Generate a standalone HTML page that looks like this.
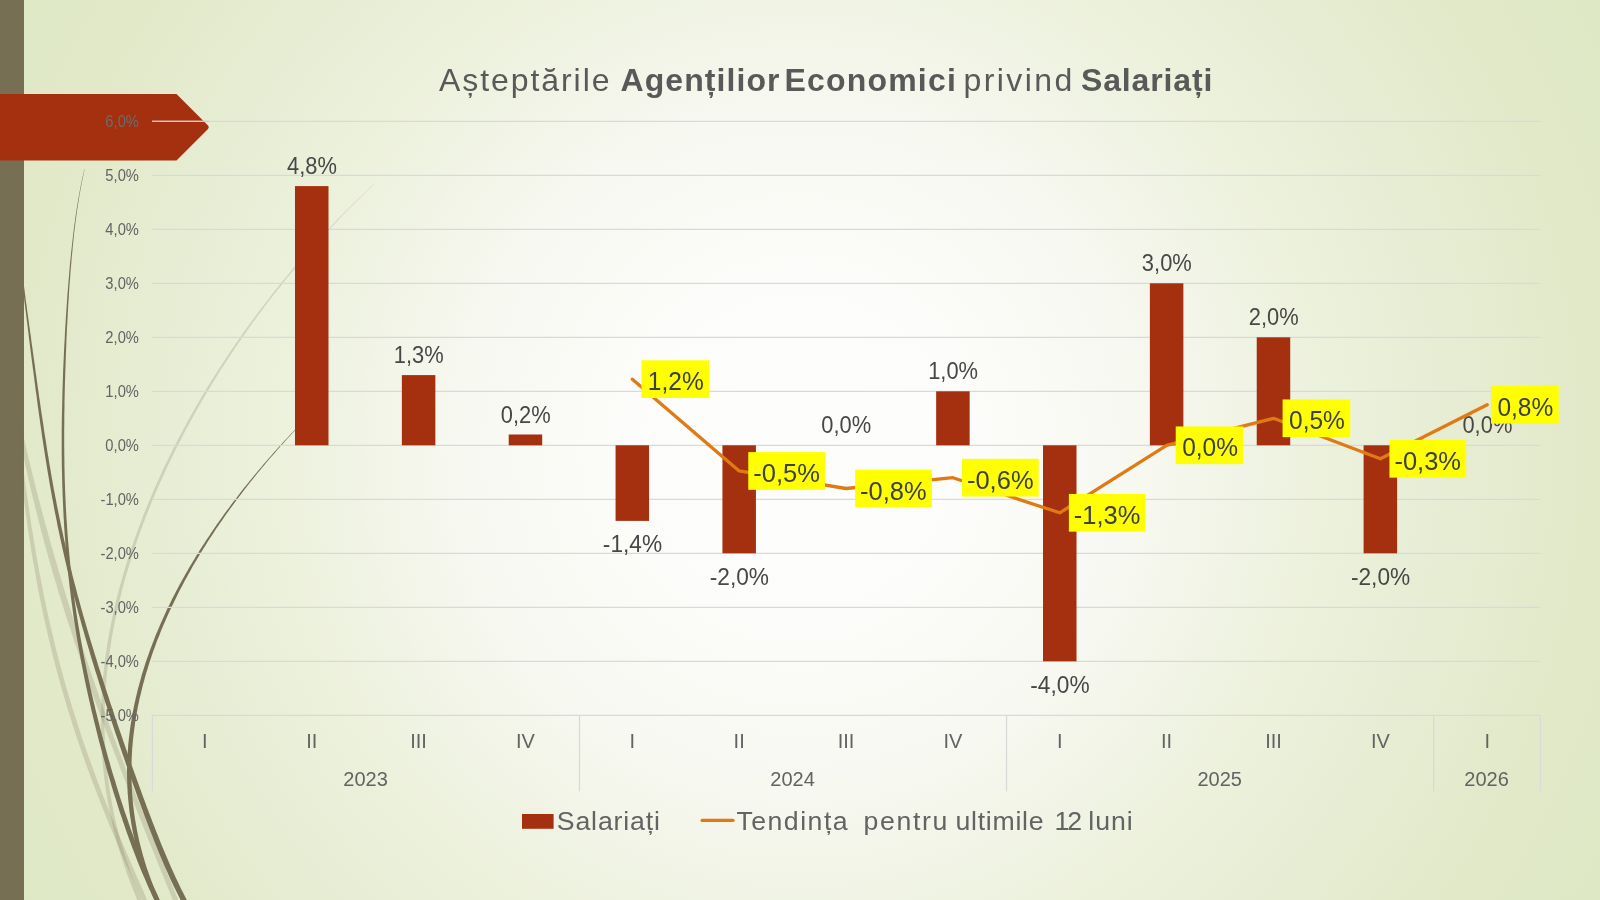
<!DOCTYPE html>
<html lang="ro">
<head>
<meta charset="utf-8">
<title>Așteptările Agențiilor Economici privind Salariați</title>
<style>
html,body{margin:0;padding:0;}
body{width:1600px;height:900px;overflow:hidden;font-family:"Liberation Sans",sans-serif;
background:#e4ebcf;}
#slide{position:absolute;left:0;top:0;width:1600px;height:900px;overflow:hidden;
background:radial-gradient(circle 900px at 800px 450px,#fdfdfc 0%,#fcfcfa 19%,#f7f8f0 38%,#f1f4e6 48%,#ecf1dc 59%,#e4ebce 80%,#e2e9c9 88%,#dee8c5 100%);}
svg{position:absolute;left:0;top:0;display:block;will-change:transform;}
</style>
</head>
<body>
<div id="slide">
<svg width="1600" height="900" viewBox="0 0 1600 900">
<rect x="0" y="0" width="24" height="900" fill="#766f54"/>
<g id="wisps">
<path d="M373.5 184.2 L369.5 187.9 L363.8 193.4 L357.5 199.5 L351.6 205.3 L346.3 210.5 L341.1 215.8 L336.0 221.1 L330.9 226.4 L326.0 231.7 L321.0 236.9 L316.2 242.2 L311.4 247.5 L306.7 252.8 L302.1 258.1 L297.6 263.4 L293.1 268.6 L288.6 273.9 L284.3 279.2 L279.9 284.5 L275.7 289.8 L271.5 295.1 L267.4 300.4 L263.3 305.7 L259.3 311.0 L255.4 316.3 L251.5 321.5 L247.6 326.8 L243.8 332.1 L240.1 337.4 L236.4 342.7 L232.8 348.0 L229.2 353.3 L225.7 358.6 L222.2 363.9 L218.8 369.2 L215.4 374.5 L212.1 379.8 L208.8 385.1 L205.6 390.3 L202.4 395.6 L199.3 400.9 L196.2 406.2 L193.2 411.5 L190.2 416.8 L187.3 422.1 L184.4 427.4 L181.6 432.7 L178.8 438.0 L176.0 443.3 L173.3 448.6 L170.7 453.9 L168.1 459.2 L165.5 464.5 L163.0 469.8 L160.6 475.1 L158.1 480.4 L155.8 485.7 L153.4 491.0 L151.2 496.3 L148.9 501.6 L146.8 506.9 L144.6 512.2 L142.5 517.5 L140.5 522.9 L138.5 528.2 L136.6 533.5 L134.7 538.8 L132.8 544.1 L131.0 549.4 L129.3 554.7 L127.6 560.0 L125.9 565.3 L124.3 570.6 L122.8 575.9 L121.3 581.2 L119.8 586.5 L118.4 591.8 L117.0 597.1 L115.7 602.5 L114.5 607.8 L113.3 613.1 L112.2 618.4 L111.1 623.7 L110.0 629.0 L109.0 634.3 L108.1 639.6 L107.2 644.9 L106.4 650.3 L105.6 655.6 L104.9 660.9 L104.3 666.2 L103.7 671.5 L103.1 676.8 L102.6 682.2 L102.2 687.5 L101.8 692.8 L101.5 698.1 L101.3 703.4 L101.1 708.7 L100.9 714.1 L100.8 719.4 L100.8 724.7 L100.9 730.0 L101.0 735.3 L101.2 740.7 L101.4 746.0 L101.7 751.3 L102.1 756.6 L102.5 761.9 L103.0 767.3 L103.6 772.6 L104.2 777.9 L104.9 783.2 L105.6 788.5 L106.5 793.9 L107.3 799.2 L108.3 804.5 L109.3 809.8 L110.4 815.1 L111.6 820.5 L112.8 825.8 L114.1 831.1 L115.5 836.4 L116.9 841.7 L118.4 847.1 L120.0 852.4 L121.7 857.7 L123.4 863.0 L125.2 868.3 L127.0 873.7 L129.0 879.0 L131.0 884.3 L133.0 889.6 L135.2 894.9 L137.4 900.3 L139.7 905.6 L142.3 911.4 L145.2 917.5 L147.8 923.0 L149.6 926.8 L153.0 925.2 L151.2 921.4 L148.6 915.9 L145.8 909.8 L143.2 904.0 L140.9 898.8 L138.7 893.5 L136.6 888.2 L134.5 882.9 L132.5 877.7 L130.6 872.4 L128.8 867.1 L127.0 861.8 L125.3 856.6 L123.6 851.3 L122.1 846.0 L120.6 840.7 L119.2 835.5 L117.8 830.2 L116.5 824.9 L115.3 819.6 L114.1 814.4 L113.1 809.1 L112.0 803.8 L111.1 798.5 L110.2 793.3 L109.4 788.0 L108.6 782.7 L108.0 777.4 L107.3 772.2 L106.8 766.9 L106.3 761.6 L105.8 756.3 L105.5 751.1 L105.2 745.8 L104.9 740.5 L104.7 735.2 L104.6 729.9 L104.5 724.7 L104.5 719.4 L104.6 714.1 L104.7 708.8 L104.9 703.6 L105.1 698.3 L105.4 693.0 L105.7 687.7 L106.1 682.4 L106.6 677.2 L107.1 671.9 L107.7 666.6 L108.3 661.3 L109.0 656.0 L109.8 650.8 L110.6 645.5 L111.4 640.2 L112.3 634.9 L113.3 629.6 L114.3 624.3 L115.4 619.1 L116.5 613.8 L117.7 608.5 L118.9 603.2 L120.2 597.9 L121.5 592.6 L122.9 587.3 L124.3 582.1 L125.7 576.8 L127.3 571.5 L128.8 566.2 L130.5 560.9 L132.1 555.6 L133.9 550.3 L135.6 545.0 L137.5 539.7 L139.3 534.5 L141.2 529.2 L143.2 523.9 L145.2 518.6 L147.3 513.3 L149.4 508.0 L151.5 502.7 L153.7 497.4 L156.0 492.1 L158.3 486.8 L160.6 481.5 L163.0 476.2 L165.4 470.9 L167.9 465.6 L170.4 460.4 L173.0 455.1 L175.6 449.8 L178.3 444.5 L181.0 439.2 L183.7 433.9 L186.5 428.6 L189.4 423.3 L192.3 418.0 L195.2 412.7 L198.2 407.4 L201.3 402.1 L204.4 396.8 L207.5 391.5 L210.7 386.2 L213.9 380.9 L217.2 375.6 L220.5 370.3 L223.9 365.0 L227.3 359.7 L230.8 354.4 L234.4 349.1 L237.9 343.8 L241.6 338.5 L245.3 333.2 L249.0 327.9 L252.8 322.5 L256.7 317.2 L260.6 311.9 L264.6 306.6 L268.6 301.3 L272.7 296.0 L276.9 290.7 L281.1 285.4 L285.3 280.1 L289.7 274.8 L294.1 269.5 L298.5 264.2 L303.0 258.9 L307.6 253.6 L312.3 248.2 L317.0 242.9 L321.8 237.6 L326.6 232.3 L331.6 227.0 L336.6 221.7 L341.6 216.3 L346.8 211.0 L352.0 205.7 L357.9 199.9 L364.2 193.8 L369.8 188.3 L373.8 184.4 Z" fill="#766f54" fill-opacity="0.22"/>
<path d="M15.9 420.4 L16.5 423.0 L17.2 426.7 L18.1 430.9 L18.9 434.9 L19.6 438.5 L20.4 442.2 L21.1 445.8 L21.9 449.4 L22.7 453.0 L23.5 456.7 L24.3 460.3 L25.1 463.9 L25.9 467.5 L26.7 471.2 L27.5 474.8 L28.3 478.4 L29.2 482.0 L30.0 485.7 L30.9 489.3 L31.7 492.9 L32.6 496.5 L33.5 500.2 L34.4 503.8 L35.2 507.4 L36.2 511.1 L37.1 514.7 L38.0 518.3 L38.9 521.9 L39.9 525.6 L40.8 529.2 L41.7 532.8 L42.7 536.4 L43.7 540.1 L44.6 543.7 L45.6 547.3 L46.6 550.9 L47.6 554.6 L48.6 558.2 L49.6 561.8 L50.7 565.4 L51.7 569.1 L52.8 572.7 L53.8 576.3 L54.9 579.9 L56.0 583.5 L57.1 587.1 L58.1 590.8 L59.3 594.4 L60.4 598.0 L61.5 601.6 L62.6 605.2 L63.8 608.9 L64.9 612.5 L66.1 616.1 L67.2 619.7 L68.4 623.3 L69.6 626.9 L70.8 630.5 L71.9 634.2 L73.1 637.8 L74.3 641.4 L75.5 645.0 L76.8 648.6 L78.0 652.2 L79.2 655.8 L80.4 659.5 L81.7 663.1 L82.9 666.7 L84.2 670.3 L85.4 673.9 L86.7 677.5 L88.0 681.2 L89.2 684.8 L90.5 688.4 L91.8 692.0 L93.1 695.6 L94.4 699.2 L95.7 702.8 L97.1 706.4 L98.4 710.1 L99.7 713.7 L101.0 717.3 L102.4 720.9 L103.7 724.5 L105.1 728.1 L106.4 731.7 L107.8 735.3 L109.1 739.0 L110.5 742.6 L111.9 746.2 L113.2 749.8 L114.6 753.4 L116.0 757.0 L117.4 760.6 L118.8 764.3 L120.2 767.9 L121.5 771.5 L122.9 775.1 L124.3 778.7 L125.7 782.3 L127.1 785.9 L128.6 789.6 L130.0 793.2 L131.4 796.8 L132.8 800.4 L134.2 804.0 L135.7 807.6 L137.1 811.3 L138.5 814.9 L140.0 818.5 L141.4 822.1 L142.8 825.7 L144.3 829.3 L145.7 833.0 L147.2 836.6 L148.6 840.2 L150.1 843.8 L151.5 847.4 L153.0 851.0 L154.4 854.6 L155.9 858.3 L157.4 861.9 L158.8 865.5 L160.3 869.1 L161.7 872.7 L163.2 876.3 L164.7 880.0 L166.1 883.6 L167.6 887.2 L169.1 890.8 L170.5 894.4 L172.0 898.0 L173.5 901.6 L174.9 905.3 L176.4 908.9 L177.9 912.5 L179.5 916.4 L181.1 920.6 L182.7 924.3 L183.7 926.9 L188.3 925.1 L187.3 922.5 L185.8 918.7 L184.1 914.6 L182.5 910.6 L181.0 907.0 L179.6 903.4 L178.1 899.8 L176.6 896.1 L175.2 892.5 L173.7 888.9 L172.2 885.3 L170.8 881.7 L169.3 878.1 L167.8 874.5 L166.4 870.8 L164.9 867.2 L163.5 863.6 L162.0 860.0 L160.5 856.4 L159.1 852.8 L157.6 849.2 L156.2 845.6 L154.7 841.9 L153.3 838.3 L151.8 834.7 L150.4 831.1 L148.9 827.5 L147.5 823.9 L146.0 820.3 L144.6 816.6 L143.2 813.0 L141.7 809.4 L140.3 805.8 L138.9 802.2 L137.5 798.6 L136.0 795.0 L134.6 791.4 L133.2 787.7 L131.8 784.1 L130.4 780.5 L129.0 776.9 L127.6 773.3 L126.2 769.7 L124.8 766.1 L123.4 762.5 L122.1 758.8 L120.7 755.2 L119.3 751.6 L118.0 748.0 L116.6 744.4 L115.3 740.8 L113.9 737.2 L112.6 733.5 L111.3 729.9 L109.9 726.3 L108.6 722.7 L107.3 719.1 L106.0 715.5 L104.7 711.8 L103.4 708.2 L102.1 704.6 L100.8 701.0 L99.6 697.4 L98.3 693.8 L97.0 690.2 L95.8 686.5 L94.5 682.9 L93.3 679.3 L92.0 675.7 L90.8 672.1 L89.5 668.5 L88.3 664.8 L87.1 661.2 L85.9 657.6 L84.7 654.0 L83.5 650.4 L82.3 646.8 L81.1 643.2 L79.9 639.6 L78.7 635.9 L77.5 632.3 L76.4 628.7 L75.2 625.1 L74.1 621.5 L72.9 617.9 L71.8 614.3 L70.7 610.6 L69.6 607.0 L68.5 603.4 L67.4 599.8 L66.3 596.2 L65.2 592.6 L64.1 589.0 L63.0 585.4 L61.9 581.8 L60.8 578.1 L59.8 574.5 L58.7 570.9 L57.7 567.3 L56.6 563.7 L55.6 560.1 L54.5 556.5 L53.5 552.9 L52.5 549.3 L51.4 545.7 L50.4 542.1 L49.4 538.5 L48.4 534.9 L47.4 531.3 L46.4 527.7 L45.4 524.1 L44.4 520.5 L43.5 516.9 L42.5 513.3 L41.6 509.7 L40.6 506.1 L39.7 502.5 L38.7 498.9 L37.8 495.3 L36.9 491.7 L35.9 488.0 L35.0 484.4 L34.1 480.8 L33.2 477.2 L32.3 473.6 L31.5 470.0 L30.6 466.4 L29.7 462.8 L28.8 459.2 L28.0 455.6 L27.1 452.0 L26.3 448.4 L25.5 444.8 L24.7 441.2 L23.8 437.6 L23.0 434.0 L22.2 430.1 L21.2 425.9 L20.4 422.2 L19.9 419.6 Z" fill="#766f54" fill-opacity="0.22"/>
<path d="M18.4 455.2 L18.7 457.6 L19.1 461.1 L19.6 465.0 L20.0 468.7 L20.4 472.0 L20.8 475.4 L21.2 478.8 L21.6 482.1 L22.1 485.5 L22.5 488.9 L22.9 492.2 L23.4 495.6 L23.8 499.0 L24.3 502.4 L24.7 505.7 L25.2 509.1 L25.6 512.5 L26.1 515.8 L26.6 519.2 L27.1 522.6 L27.5 525.9 L28.0 529.3 L28.5 532.7 L29.0 536.1 L29.6 539.4 L30.1 542.8 L30.6 546.2 L31.1 549.5 L31.7 552.9 L32.2 556.3 L32.8 559.7 L33.4 563.0 L34.0 566.4 L34.5 569.8 L35.2 573.1 L35.8 576.5 L36.4 579.9 L37.0 583.3 L37.6 586.6 L38.3 590.0 L38.9 593.4 L39.6 596.7 L40.3 600.1 L41.0 603.5 L41.7 606.9 L42.4 610.2 L43.1 613.6 L43.8 617.0 L44.5 620.3 L45.3 623.7 L46.0 627.1 L46.8 630.5 L47.6 633.8 L48.4 637.2 L49.2 640.6 L50.0 643.9 L50.8 647.3 L51.6 650.7 L52.4 654.1 L53.3 657.4 L54.2 660.8 L55.0 664.2 L55.9 667.6 L56.8 670.9 L57.7 674.3 L58.6 677.7 L59.6 681.0 L60.5 684.4 L61.4 687.8 L62.4 691.2 L63.4 694.5 L64.4 697.9 L65.4 701.3 L66.4 704.7 L67.4 708.0 L68.4 711.4 L69.5 714.8 L70.5 718.1 L71.6 721.5 L72.6 724.9 L73.7 728.3 L74.8 731.6 L75.9 735.0 L77.1 738.4 L78.2 741.8 L79.3 745.1 L80.5 748.5 L81.6 751.9 L82.8 755.2 L84.0 758.6 L85.2 762.0 L86.4 765.4 L87.6 768.7 L88.9 772.1 L90.1 775.5 L91.4 778.8 L92.6 782.2 L93.9 785.6 L95.2 789.0 L96.5 792.3 L97.8 795.7 L99.1 799.1 L100.4 802.4 L101.7 805.8 L103.1 809.2 L104.4 812.5 L105.8 815.9 L107.1 819.3 L108.5 822.7 L109.9 826.0 L111.3 829.4 L112.7 832.8 L114.1 836.1 L115.5 839.5 L116.9 842.9 L118.3 846.2 L119.8 849.6 L121.2 853.0 L122.6 856.3 L124.1 859.7 L125.5 863.1 L127.0 866.4 L128.5 869.8 L129.9 873.2 L131.4 876.5 L132.9 879.9 L134.3 883.3 L135.8 886.6 L137.3 890.0 L138.8 893.4 L140.3 896.7 L141.8 900.1 L143.2 903.5 L144.7 906.8 L146.2 910.2 L147.7 913.6 L149.3 917.2 L151.1 921.1 L152.6 924.6 L153.7 927.0 L158.2 925.0 L157.2 922.6 L155.6 919.1 L153.9 915.2 L152.3 911.5 L150.8 908.2 L149.3 904.8 L147.8 901.4 L146.3 898.1 L144.8 894.7 L143.4 891.3 L141.9 888.0 L140.4 884.6 L138.9 881.3 L137.4 877.9 L136.0 874.5 L134.5 871.2 L133.0 867.8 L131.6 864.4 L130.1 861.1 L128.7 857.7 L127.2 854.4 L125.8 851.0 L124.4 847.6 L122.9 844.3 L121.5 840.9 L120.1 837.6 L118.7 834.2 L117.3 830.8 L115.9 827.5 L114.5 824.1 L113.1 820.8 L111.8 817.4 L110.4 814.0 L109.1 810.7 L107.7 807.3 L106.4 804.0 L105.1 800.6 L103.7 797.2 L102.4 793.9 L101.1 790.5 L99.9 787.2 L98.6 783.8 L97.3 780.5 L96.0 777.1 L94.8 773.7 L93.6 770.4 L92.3 767.0 L91.1 763.7 L89.9 760.3 L88.7 757.0 L87.5 753.6 L86.3 750.2 L85.2 746.9 L84.0 743.5 L82.9 740.2 L81.7 736.8 L80.6 733.5 L79.5 730.1 L78.4 726.7 L77.3 723.4 L76.2 720.0 L75.2 716.7 L74.1 713.3 L73.1 710.0 L72.0 706.6 L71.0 703.3 L70.0 699.9 L69.0 696.5 L68.0 693.2 L67.0 689.8 L66.0 686.5 L65.1 683.1 L64.1 679.8 L63.2 676.4 L62.3 673.1 L61.4 669.7 L60.5 666.3 L59.6 663.0 L58.7 659.6 L57.8 656.3 L57.0 652.9 L56.1 649.6 L55.3 646.2 L54.5 642.9 L53.7 639.5 L52.9 636.1 L52.1 632.8 L51.3 629.4 L50.5 626.1 L49.8 622.7 L49.0 619.4 L48.3 616.0 L47.5 612.6 L46.8 609.3 L46.1 605.9 L45.4 602.6 L44.7 599.2 L44.0 595.9 L43.3 592.5 L42.7 589.1 L42.0 585.8 L41.3 582.4 L40.7 579.1 L40.1 575.7 L39.4 572.4 L38.8 569.0 L38.2 565.6 L37.6 562.3 L37.0 558.9 L36.4 555.6 L35.8 552.2 L35.3 548.9 L34.7 545.5 L34.1 542.1 L33.6 538.8 L33.0 535.4 L32.5 532.1 L31.9 528.7 L31.4 525.4 L30.9 522.0 L30.4 518.6 L29.9 515.3 L29.4 511.9 L28.9 508.6 L28.4 505.2 L27.9 501.8 L27.4 498.5 L26.9 495.1 L26.5 491.8 L26.0 488.4 L25.5 485.1 L25.1 481.7 L24.6 478.3 L24.2 475.0 L23.7 471.6 L23.3 468.3 L22.8 464.6 L22.3 460.7 L21.9 457.2 L21.6 454.8 Z" fill="#766f54" fill-opacity="0.22"/>
<path d="M84.3 169.3 L83.6 172.4 L82.6 177.0 L81.5 182.0 L80.5 186.9 L79.7 191.3 L78.9 195.7 L78.1 200.0 L77.4 204.4 L76.7 208.8 L76.0 213.2 L75.4 217.6 L74.8 222.0 L74.2 226.4 L73.6 230.8 L73.1 235.2 L72.6 239.6 L72.1 244.0 L71.6 248.4 L71.1 252.8 L70.7 257.2 L70.2 261.6 L69.8 266.0 L69.4 270.4 L69.1 274.8 L68.7 279.2 L68.3 283.6 L68.0 288.0 L67.6 292.4 L67.3 296.8 L67.0 301.2 L66.7 305.6 L66.4 310.0 L66.1 314.4 L65.8 318.8 L65.6 323.2 L65.3 327.6 L65.0 332.0 L64.8 336.4 L64.6 340.8 L64.3 345.2 L64.1 349.6 L63.9 354.0 L63.7 358.4 L63.5 362.8 L63.3 367.2 L63.1 371.6 L63.0 376.0 L62.8 380.4 L62.7 384.8 L62.5 389.2 L62.4 393.6 L62.3 398.0 L62.2 402.4 L62.1 406.8 L62.0 411.2 L61.9 415.7 L61.8 420.1 L61.8 424.5 L61.7 428.9 L61.7 433.3 L61.7 437.7 L61.7 442.1 L61.7 446.5 L61.7 450.9 L61.7 455.3 L61.8 459.7 L61.8 464.1 L61.9 468.5 L62.0 472.9 L62.1 477.3 L62.2 481.7 L62.3 486.1 L62.5 490.5 L62.6 494.9 L62.8 499.3 L63.0 503.7 L63.2 508.1 L63.4 512.5 L63.6 516.9 L63.9 521.3 L64.1 525.7 L64.4 530.1 L64.7 534.6 L65.1 539.0 L65.4 543.4 L65.7 547.8 L66.1 552.2 L66.5 556.6 L66.9 561.0 L67.3 565.4 L67.8 569.8 L68.2 574.2 L68.7 578.6 L69.2 583.0 L69.7 587.4 L70.3 591.8 L70.8 596.3 L71.4 600.7 L72.0 605.1 L72.6 609.5 L73.2 613.9 L73.8 618.3 L74.5 622.7 L75.2 627.1 L75.9 631.5 L76.6 635.9 L77.3 640.3 L78.1 644.8 L78.9 649.2 L79.7 653.6 L80.5 658.0 L81.3 662.4 L82.2 666.8 L83.0 671.2 L83.9 675.6 L84.8 680.0 L85.7 684.4 L86.7 688.9 L87.6 693.3 L88.6 697.7 L89.6 702.1 L90.6 706.5 L91.6 710.9 L92.7 715.3 L93.7 719.7 L94.8 724.1 L95.9 728.5 L97.0 733.0 L98.1 737.4 L99.2 741.8 L100.4 746.2 L101.6 750.6 L102.8 755.0 L104.0 759.4 L105.2 763.8 L106.4 768.3 L107.7 772.7 L109.0 777.1 L110.3 781.5 L111.6 785.9 L112.9 790.3 L114.3 794.7 L115.7 799.1 L117.1 803.6 L118.5 808.0 L119.9 812.4 L121.4 816.8 L122.9 821.2 L124.4 825.6 L125.9 830.0 L127.5 834.4 L129.1 838.9 L130.7 843.3 L132.3 847.7 L134.0 852.1 L135.7 856.5 L137.4 860.9 L139.1 865.3 L140.9 869.8 L142.8 874.2 L144.7 878.6 L146.6 883.0 L148.5 887.4 L150.5 891.8 L152.5 896.3 L154.6 900.7 L156.7 905.1 L158.9 909.5 L161.4 914.4 L164.1 919.5 L166.5 924.0 L168.2 927.2 L172.6 924.8 L170.9 921.7 L168.5 917.1 L165.8 912.1 L163.4 907.3 L161.2 902.9 L159.1 898.5 L157.1 894.1 L155.0 889.8 L153.1 885.4 L151.1 881.0 L149.2 876.6 L147.4 872.2 L145.6 867.9 L143.8 863.5 L142.0 859.1 L140.3 854.7 L138.6 850.3 L137.0 845.9 L135.3 841.6 L133.7 837.2 L132.1 832.8 L130.5 828.4 L129.0 824.0 L127.5 819.6 L126.0 815.2 L124.5 810.9 L123.1 806.5 L121.6 802.1 L120.2 797.7 L118.8 793.3 L117.5 788.9 L116.1 784.5 L114.8 780.1 L113.4 775.8 L112.1 771.4 L110.8 767.0 L109.6 762.6 L108.3 758.2 L107.1 753.8 L105.9 749.4 L104.7 745.1 L103.5 740.7 L102.3 736.3 L101.1 731.9 L100.0 727.5 L98.9 723.1 L97.8 718.7 L96.7 714.3 L95.6 710.0 L94.6 705.6 L93.5 701.2 L92.5 696.8 L91.5 692.4 L90.5 688.0 L89.6 683.6 L88.6 679.2 L87.7 674.8 L86.8 670.5 L85.9 666.1 L85.0 661.7 L84.1 657.3 L83.3 652.9 L82.5 648.5 L81.7 644.1 L80.9 639.7 L80.1 635.3 L79.4 631.0 L78.6 626.6 L77.9 622.2 L77.2 617.8 L76.5 613.4 L75.9 609.0 L75.2 604.6 L74.6 600.2 L74.0 595.8 L73.4 591.4 L72.9 587.1 L72.3 582.7 L71.8 578.3 L71.3 573.9 L70.8 569.5 L70.3 565.1 L69.9 560.7 L69.5 556.3 L69.1 551.9 L68.7 547.5 L68.3 543.1 L67.9 538.7 L67.6 534.3 L67.3 530.0 L67.0 525.6 L66.7 521.2 L66.4 516.8 L66.2 512.4 L65.9 508.0 L65.7 503.6 L65.5 499.2 L65.3 494.8 L65.1 490.4 L65.0 486.0 L64.8 481.6 L64.7 477.2 L64.6 472.8 L64.5 468.4 L64.4 464.0 L64.4 459.6 L64.3 455.2 L64.3 450.9 L64.2 446.5 L64.2 442.1 L64.2 437.7 L64.2 433.3 L64.2 428.9 L64.3 424.5 L64.3 420.1 L64.3 415.7 L64.4 411.3 L64.5 406.9 L64.5 402.5 L64.6 398.1 L64.7 393.7 L64.8 389.3 L64.9 384.9 L65.0 380.5 L65.2 376.1 L65.3 371.7 L65.5 367.3 L65.6 362.9 L65.8 358.5 L65.9 354.1 L66.1 349.7 L66.3 345.3 L66.4 340.9 L66.6 336.5 L66.8 332.1 L67.0 327.7 L67.3 323.3 L67.5 318.9 L67.7 314.5 L68.0 310.1 L68.2 305.7 L68.5 301.3 L68.8 296.9 L69.0 292.5 L69.3 288.1 L69.6 283.7 L70.0 279.3 L70.3 274.9 L70.6 270.5 L71.0 266.1 L71.4 261.7 L71.7 257.3 L72.2 252.9 L72.6 248.5 L73.0 244.1 L73.5 239.7 L73.9 235.3 L74.4 230.9 L75.0 226.5 L75.5 222.1 L76.1 217.7 L76.7 213.3 L77.3 208.9 L78.0 204.5 L78.7 200.1 L79.4 195.7 L80.2 191.3 L81.0 186.9 L81.9 182.1 L83.0 177.0 L83.9 172.5 L84.6 169.3 Z" fill="#766f54"/>
<path d="M18.5 250.1 L18.8 252.9 L19.3 256.9 L19.7 261.5 L20.2 265.8 L20.7 269.7 L21.1 273.7 L21.6 277.6 L22.0 281.5 L22.5 285.5 L23.0 289.4 L23.5 293.3 L24.0 297.3 L24.4 301.2 L24.9 305.1 L25.4 309.1 L25.9 313.0 L26.4 316.9 L26.9 320.9 L27.4 324.8 L27.9 328.7 L28.4 332.7 L28.8 336.6 L29.3 340.5 L29.8 344.5 L30.3 348.4 L30.8 352.3 L31.3 356.3 L31.8 360.2 L32.3 364.1 L32.8 368.1 L33.4 372.0 L33.9 375.9 L34.4 379.9 L34.9 383.8 L35.4 387.7 L35.9 391.7 L36.5 395.6 L37.0 399.5 L37.5 403.5 L38.0 407.4 L38.6 411.3 L39.1 415.3 L39.7 419.2 L40.2 423.1 L40.8 427.1 L41.4 431.0 L41.9 434.9 L42.5 438.9 L43.1 442.8 L43.7 446.7 L44.3 450.7 L44.9 454.6 L45.5 458.5 L46.2 462.5 L46.8 466.4 L47.4 470.3 L48.1 474.3 L48.8 478.2 L49.4 482.2 L50.1 486.1 L50.8 490.0 L51.5 494.0 L52.2 497.9 L53.0 501.8 L53.7 505.8 L54.4 509.7 L55.2 513.7 L56.0 517.6 L56.8 521.5 L57.5 525.5 L58.4 529.4 L59.2 533.3 L60.0 537.3 L60.9 541.2 L61.7 545.1 L62.6 549.1 L63.5 553.0 L64.4 557.0 L65.3 560.9 L66.2 564.8 L67.1 568.8 L68.1 572.7 L69.1 576.7 L70.0 580.6 L71.0 584.5 L72.0 588.5 L73.0 592.4 L74.0 596.4 L75.1 600.3 L76.1 604.2 L77.2 608.2 L78.2 612.1 L79.3 616.0 L80.4 620.0 L81.5 623.9 L82.6 627.9 L83.7 631.8 L84.8 635.7 L86.0 639.7 L87.1 643.6 L88.3 647.6 L89.5 651.5 L90.6 655.4 L91.8 659.4 L93.0 663.3 L94.2 667.3 L95.4 671.2 L96.7 675.1 L97.9 679.1 L99.1 683.0 L100.4 687.0 L101.6 690.9 L102.9 694.8 L104.2 698.8 L105.4 702.7 L106.7 706.6 L108.0 710.6 L109.3 714.5 L110.6 718.4 L111.9 722.4 L113.2 726.3 L114.5 730.3 L115.8 734.2 L117.2 738.1 L118.5 742.1 L119.8 746.0 L121.2 749.9 L122.5 753.9 L123.9 757.8 L125.2 761.8 L126.6 765.7 L128.0 769.6 L129.3 773.6 L130.7 777.5 L132.1 781.4 L133.5 785.4 L134.9 789.3 L136.3 793.3 L137.7 797.2 L139.1 801.1 L140.6 805.1 L142.0 809.0 L143.5 812.9 L144.9 816.9 L146.4 820.8 L147.9 824.8 L149.4 828.7 L150.9 832.6 L152.5 836.6 L154.0 840.5 L155.6 844.5 L157.2 848.4 L158.8 852.4 L160.4 856.3 L162.1 860.3 L163.8 864.2 L165.5 868.2 L167.3 872.1 L169.0 876.0 L170.8 880.0 L172.7 883.9 L174.6 887.9 L176.5 891.8 L178.5 895.8 L180.5 899.7 L182.5 903.7 L184.6 907.7 L186.8 911.6 L189.3 916.0 L192.0 920.5 L194.4 924.6 L196.0 927.4 L200.8 924.6 L199.1 921.8 L196.7 917.7 L194.0 913.2 L191.6 908.9 L189.5 905.0 L187.4 901.1 L185.4 897.2 L183.4 893.3 L181.4 889.4 L179.5 885.5 L177.7 881.6 L175.8 877.7 L174.0 873.8 L172.3 869.9 L170.5 865.9 L168.8 862.0 L167.1 858.1 L165.5 854.2 L163.8 850.3 L162.2 846.4 L160.6 842.5 L159.0 838.5 L157.5 834.6 L155.9 830.7 L154.4 826.8 L152.9 822.9 L151.4 818.9 L149.9 815.0 L148.4 811.1 L146.9 807.2 L145.5 803.3 L144.0 799.3 L142.6 795.4 L141.2 791.5 L139.7 787.6 L138.3 783.6 L136.9 779.7 L135.5 775.8 L134.1 771.9 L132.7 768.0 L131.3 764.0 L129.9 760.1 L128.6 756.2 L127.2 752.3 L125.8 748.3 L124.5 744.4 L123.1 740.5 L121.8 736.6 L120.4 732.6 L119.1 728.7 L117.7 724.8 L116.4 720.9 L115.1 716.9 L113.8 713.0 L112.5 709.1 L111.2 705.2 L109.8 701.3 L108.6 697.3 L107.3 693.4 L106.0 689.5 L104.7 685.6 L103.4 681.6 L102.2 677.7 L100.9 673.8 L99.7 669.9 L98.4 666.0 L97.2 662.0 L96.0 658.1 L94.8 654.2 L93.6 650.3 L92.4 646.3 L91.2 642.4 L90.0 638.5 L88.8 634.6 L87.7 630.7 L86.5 626.7 L85.4 622.8 L84.3 618.9 L83.1 615.0 L82.0 611.1 L80.9 607.1 L79.9 603.2 L78.8 599.3 L77.7 595.4 L76.7 591.4 L75.7 587.5 L74.6 583.6 L73.6 579.7 L72.6 575.8 L71.7 571.8 L70.7 567.9 L69.7 564.0 L68.8 560.1 L67.9 556.2 L66.9 552.2 L66.0 548.3 L65.2 544.4 L64.3 540.5 L63.4 536.5 L62.6 532.6 L61.7 528.7 L60.9 524.8 L60.1 520.8 L59.3 516.9 L58.5 513.0 L57.7 509.1 L56.9 505.2 L56.2 501.2 L55.4 497.3 L54.7 493.4 L53.9 489.5 L53.2 485.5 L52.5 481.6 L51.8 477.7 L51.1 473.8 L50.5 469.8 L49.8 465.9 L49.1 462.0 L48.5 458.1 L47.8 454.1 L47.2 450.2 L46.6 446.3 L46.0 442.4 L45.4 438.4 L44.7 434.5 L44.1 430.6 L43.6 426.7 L43.0 422.7 L42.4 418.8 L41.8 414.9 L41.2 411.0 L40.6 407.0 L40.1 403.1 L39.5 399.2 L38.9 395.2 L38.4 391.3 L37.8 387.4 L37.3 383.5 L36.7 379.5 L36.2 375.6 L35.6 371.7 L35.1 367.8 L34.6 363.8 L34.0 359.9 L33.5 356.0 L32.9 352.0 L32.4 348.1 L31.8 344.2 L31.3 340.3 L30.8 336.3 L30.2 332.4 L29.7 328.5 L29.1 324.6 L28.6 320.6 L28.1 316.7 L27.5 312.8 L27.0 308.9 L26.5 304.9 L25.9 301.0 L25.4 297.1 L24.9 293.1 L24.4 289.2 L23.9 285.3 L23.3 281.4 L22.8 277.4 L22.3 273.5 L21.9 269.6 L21.4 265.7 L20.9 261.4 L20.3 256.8 L19.8 252.8 L19.5 249.9 Z" fill="#766f54"/>
<path d="M294.9 429.8 L292.9 431.9 L290.1 434.8 L287.0 438.2 L284.1 441.3 L281.4 444.2 L278.8 447.0 L276.2 449.9 L273.6 452.8 L271.1 455.7 L268.6 458.5 L266.1 461.4 L263.6 464.3 L261.2 467.2 L258.8 470.0 L256.3 472.9 L254.0 475.8 L251.6 478.7 L249.3 481.5 L246.9 484.4 L244.6 487.3 L242.4 490.1 L240.1 493.0 L237.9 495.9 L235.7 498.8 L233.5 501.6 L231.3 504.5 L229.2 507.4 L227.1 510.3 L225.0 513.1 L222.9 516.0 L220.8 518.9 L218.8 521.8 L216.8 524.6 L214.8 527.5 L212.8 530.4 L210.9 533.3 L209.0 536.2 L207.0 539.0 L205.2 541.9 L203.3 544.8 L201.4 547.7 L199.6 550.5 L197.8 553.4 L196.0 556.3 L194.3 559.2 L192.6 562.0 L190.8 564.9 L189.1 567.8 L187.5 570.7 L185.8 573.6 L184.2 576.4 L182.6 579.3 L181.0 582.2 L179.4 585.1 L177.9 588.0 L176.4 590.8 L174.9 593.7 L173.4 596.6 L171.9 599.5 L170.5 602.4 L169.1 605.3 L167.7 608.1 L166.3 611.0 L165.0 613.9 L163.7 616.8 L162.4 619.7 L161.1 622.6 L159.8 625.5 L158.6 628.4 L157.4 631.2 L156.2 634.1 L155.0 637.0 L153.9 639.9 L152.8 642.8 L151.7 645.7 L150.6 648.6 L149.5 651.5 L148.5 654.4 L147.5 657.2 L146.5 660.1 L145.5 663.0 L144.6 665.9 L143.7 668.8 L142.8 671.7 L141.9 674.6 L141.1 677.5 L140.3 680.4 L139.5 683.3 L138.7 686.2 L137.9 689.1 L137.2 692.0 L136.5 694.9 L135.8 697.8 L135.2 700.7 L134.5 703.5 L133.9 706.4 L133.4 709.3 L132.8 712.2 L132.3 715.1 L131.8 718.0 L131.3 720.9 L130.8 723.8 L130.4 726.7 L130.0 729.6 L129.6 732.5 L129.3 735.4 L128.9 738.3 L128.6 741.2 L128.3 744.1 L128.1 747.0 L127.9 749.9 L127.7 752.8 L127.5 755.7 L127.4 758.7 L127.2 761.6 L127.2 764.5 L127.1 767.4 L127.0 770.3 L127.0 773.2 L127.1 776.1 L127.1 779.0 L127.2 781.9 L127.3 784.8 L127.4 787.7 L127.6 790.6 L127.7 793.5 L128.0 796.4 L128.2 799.3 L128.5 802.2 L128.8 805.1 L129.1 808.0 L129.4 810.9 L129.8 813.8 L130.2 816.7 L130.7 819.6 L131.1 822.5 L131.6 825.5 L132.2 828.4 L132.7 831.3 L133.3 834.2 L133.9 837.1 L134.5 840.0 L135.2 842.9 L135.9 845.8 L136.6 848.7 L137.4 851.6 L138.2 854.5 L139.0 857.4 L139.9 860.3 L140.8 863.2 L141.7 866.1 L142.6 869.0 L143.6 871.9 L144.6 874.8 L145.6 877.7 L146.7 880.6 L147.8 883.5 L148.9 886.4 L150.1 889.3 L151.3 892.2 L152.5 895.1 L153.8 898.0 L155.0 900.9 L156.3 903.8 L157.7 906.7 L159.0 909.6 L160.5 912.5 L161.9 915.4 L163.5 918.6 L165.3 921.9 L166.8 924.9 L167.9 927.0 L171.6 925.0 L170.6 922.9 L169.0 920.0 L167.2 916.7 L165.6 913.5 L164.2 910.7 L162.8 907.8 L161.5 904.9 L160.2 902.1 L158.9 899.2 L157.6 896.3 L156.4 893.5 L155.2 890.6 L154.0 887.7 L152.9 884.9 L151.8 882.0 L150.7 879.1 L149.7 876.3 L148.7 873.4 L147.7 870.5 L146.7 867.7 L145.8 864.8 L144.9 861.9 L144.1 859.1 L143.2 856.2 L142.4 853.3 L141.7 850.5 L140.9 847.6 L140.2 844.7 L139.5 841.9 L138.8 839.0 L138.2 836.1 L137.6 833.3 L137.0 830.4 L136.5 827.6 L136.0 824.7 L135.5 821.8 L135.0 819.0 L134.6 816.1 L134.2 813.2 L133.8 810.4 L133.5 807.5 L133.1 804.7 L132.8 801.8 L132.6 798.9 L132.3 796.1 L132.1 793.2 L132.0 790.3 L131.8 787.5 L131.7 784.6 L131.6 781.7 L131.5 778.9 L131.4 776.0 L131.4 773.2 L131.4 770.3 L131.4 767.4 L131.5 764.6 L131.6 761.7 L131.7 758.8 L131.8 756.0 L132.0 753.1 L132.1 750.2 L132.3 747.4 L132.6 744.5 L132.8 741.6 L133.1 738.8 L133.4 735.9 L133.8 733.0 L134.1 730.2 L134.5 727.3 L134.9 724.4 L135.3 721.6 L135.8 718.7 L136.3 715.8 L136.8 713.0 L137.3 710.1 L137.8 707.2 L138.4 704.4 L139.0 701.5 L139.6 698.6 L140.3 695.7 L141.0 692.9 L141.7 690.0 L142.4 687.1 L143.1 684.3 L143.9 681.4 L144.7 678.5 L145.5 675.6 L146.3 672.8 L147.2 669.9 L148.1 667.0 L149.0 664.1 L149.9 661.3 L150.8 658.4 L151.8 655.5 L152.8 652.6 L153.8 649.8 L154.9 646.9 L155.9 644.0 L157.0 641.1 L158.1 638.2 L159.3 635.4 L160.4 632.5 L161.6 629.6 L162.8 626.7 L164.0 623.8 L165.3 621.0 L166.5 618.1 L167.8 615.2 L169.1 612.3 L170.4 609.4 L171.8 606.6 L173.2 603.7 L174.6 600.8 L176.0 597.9 L177.4 595.0 L178.9 592.1 L180.3 589.2 L181.8 586.4 L183.4 583.5 L184.9 580.6 L186.5 577.7 L188.1 574.8 L189.7 571.9 L191.3 569.0 L192.9 566.1 L194.6 563.3 L196.3 560.4 L198.0 557.5 L199.8 554.6 L201.5 551.7 L203.3 548.8 L205.1 545.9 L206.9 543.0 L208.8 540.1 L210.6 537.2 L212.5 534.4 L214.4 531.5 L216.3 528.6 L218.3 525.7 L220.3 522.8 L222.3 519.9 L224.3 517.0 L226.3 514.1 L228.4 511.2 L230.5 508.3 L232.6 505.4 L234.7 502.6 L236.9 499.7 L239.0 496.8 L241.2 493.9 L243.4 491.0 L245.7 488.1 L247.9 485.2 L250.2 482.3 L252.5 479.4 L254.9 476.5 L257.2 473.6 L259.6 470.7 L262.0 467.8 L264.4 464.9 L266.8 462.0 L269.3 459.1 L271.8 456.3 L274.3 453.4 L276.8 450.5 L279.4 447.6 L282.0 444.7 L284.6 441.8 L287.5 438.6 L290.5 435.3 L293.3 432.3 L295.2 430.2 Z" fill="#766f54"/>
</g>
<path d="M0 94 L176.5 94 L208 125.5 Q209.6 127.3 208 129 L176.5 160.6 L0 160.6 Z" fill="#a5300f"/>
<g stroke="#d9d9da" stroke-width="1.3">
<line x1="152.0" y1="715.30" x2="1540.0" y2="715.30"/>
<line x1="152.0" y1="661.30" x2="1540.0" y2="661.30"/>
<line x1="152.0" y1="607.30" x2="1540.0" y2="607.30"/>
<line x1="152.0" y1="553.30" x2="1540.0" y2="553.30"/>
<line x1="152.0" y1="499.30" x2="1540.0" y2="499.30"/>
<line x1="152.0" y1="445.30" x2="1540.0" y2="445.30"/>
<line x1="152.0" y1="391.30" x2="1540.0" y2="391.30"/>
<line x1="152.0" y1="337.30" x2="1540.0" y2="337.30"/>
<line x1="152.0" y1="283.30" x2="1540.0" y2="283.30"/>
<line x1="152.0" y1="229.30" x2="1540.0" y2="229.30"/>
<line x1="152.0" y1="175.30" x2="1540.0" y2="175.30"/>
<line x1="152.0" y1="121.30" x2="1540.0" y2="121.30"/>
</g>
<line x1="152.0" y1="121.30" x2="209" y2="121.30" stroke="#d8c4c0" stroke-width="1.3"/>
<g fill="#636363" font-size="16" style="font-family:'Liberation Sans',sans-serif">
<text transform="translate(138.90 721.00) scale(0.9200 1)" text-anchor="end">-5,0%</text>
<text transform="translate(138.90 667.00) scale(0.9200 1)" text-anchor="end">-4,0%</text>
<text transform="translate(138.90 613.00) scale(0.9200 1)" text-anchor="end">-3,0%</text>
<text transform="translate(138.90 559.00) scale(0.9200 1)" text-anchor="end">-2,0%</text>
<text transform="translate(138.90 505.00) scale(0.9200 1)" text-anchor="end">-1,0%</text>
<text transform="translate(138.90 451.00) scale(0.9200 1)" text-anchor="end">0,0%</text>
<text transform="translate(138.90 397.00) scale(0.9200 1)" text-anchor="end">1,0%</text>
<text transform="translate(138.90 343.00) scale(0.9200 1)" text-anchor="end">2,0%</text>
<text transform="translate(138.90 289.00) scale(0.9200 1)" text-anchor="end">3,0%</text>
<text transform="translate(138.90 235.00) scale(0.9200 1)" text-anchor="end">4,0%</text>
<text transform="translate(138.90 181.00) scale(0.9200 1)" text-anchor="end">5,0%</text>
<text transform="translate(138.90 127.00) scale(0.9200 1)" text-anchor="end" fill="#6e6a6a">6,0%</text>
</g>
<g fill="#a5300f">
<rect x="294.99" y="186.10" width="33.50" height="259.20"/>
<rect x="401.85" y="375.10" width="33.50" height="70.20"/>
<rect x="508.71" y="434.50" width="33.50" height="10.80"/>
<rect x="615.57" y="445.30" width="33.50" height="75.60"/>
<rect x="722.43" y="445.30" width="33.50" height="108.00"/>
<rect x="936.15" y="391.30" width="33.50" height="54.00"/>
<rect x="1043.01" y="445.30" width="33.50" height="216.00"/>
<rect x="1149.87" y="283.30" width="33.50" height="162.00"/>
<rect x="1256.73" y="337.30" width="33.50" height="108.00"/>
<rect x="1363.59" y="445.30" width="33.50" height="108.00"/>
</g>
<g fill="#474747" font-size="24" style="font-family:'Liberation Sans',sans-serif">
<text transform="translate(311.94 174.10) scale(0.9130 1)" text-anchor="middle">4,8%</text>
<text transform="translate(418.80 363.10) scale(0.9130 1)" text-anchor="middle">1,3%</text>
<text transform="translate(525.66 422.50) scale(0.9130 1)" text-anchor="middle">0,2%</text>
<text transform="translate(632.52 552.40) scale(0.9460 1)" text-anchor="middle">-1,4%</text>
<text transform="translate(739.38 584.80) scale(0.9460 1)" text-anchor="middle">-2,0%</text>
<text transform="translate(846.24 433.30) scale(0.9130 1)" text-anchor="middle">0,0%</text>
<text transform="translate(953.10 379.30) scale(0.9130 1)" text-anchor="middle">1,0%</text>
<text transform="translate(1059.96 692.80) scale(0.9460 1)" text-anchor="middle">-4,0%</text>
<text transform="translate(1166.82 271.30) scale(0.9130 1)" text-anchor="middle">3,0%</text>
<text transform="translate(1273.68 325.30) scale(0.9130 1)" text-anchor="middle">2,0%</text>
<text transform="translate(1380.54 584.80) scale(0.9460 1)" text-anchor="middle">-2,0%</text>
<text transform="translate(1487.40 433.30) scale(0.9130 1)" text-anchor="middle">0,0%</text>
</g>
<g stroke="#d9d9d9" stroke-width="1" fill="none">
<line x1="152.0" y1="715.5" x2="1540.0" y2="715.5"/>
<line x1="152.40" y1="715.5" x2="152.40" y2="791.3" stroke="#d9d9d8" stroke-width="1.25"/>
<line x1="579.48" y1="715.5" x2="579.48" y2="791.3" stroke="#d9d9d8" stroke-width="1.25"/>
<line x1="1006.55" y1="715.5" x2="1006.55" y2="791.3" stroke="#d9d9d8" stroke-width="1.25"/>
<line x1="1433.63" y1="715.5" x2="1433.63" y2="791.3" stroke="#d9d9d8" stroke-width="1.25"/>
<line x1="1540.40" y1="715.5" x2="1540.40" y2="791.3" stroke="#d9d9d8" stroke-width="1.25"/>
</g>
<g fill="#636363" font-size="20" text-anchor="middle" style="font-family:'Liberation Sans',sans-serif">
<text x="204.88" y="747.9">I</text>
<text x="311.74" y="747.9">II</text>
<text x="418.60" y="747.9">III</text>
<text x="525.46" y="747.9">IV</text>
<text x="632.32" y="747.9">I</text>
<text x="739.18" y="747.9">II</text>
<text x="846.04" y="747.9">III</text>
<text x="952.90" y="747.9">IV</text>
<text x="1059.76" y="747.9">I</text>
<text x="1166.62" y="747.9">II</text>
<text x="1273.48" y="747.9">III</text>
<text x="1380.34" y="747.9">IV</text>
<text x="1487.20" y="747.9">I</text>
<text x="365.54" y="786.3">2023</text>
<text x="792.62" y="786.3">2024</text>
<text x="1219.69" y="786.3">2025</text>
<text x="1486.62" y="786.3">2026</text>
</g>
<polyline points="632.32,379.15 739.18,470.95 846.04,488.50 952.90,477.70 1059.76,512.80 1166.62,445.30 1273.48,418.30 1380.34,458.80 1487.20,404.80" fill="none" stroke="#e07a15" stroke-width="3.3" stroke-linejoin="round" stroke-linecap="round"/>
<g font-size="26.67" fill="#3d404b" style="font-family:'Liberation Sans',sans-serif">
<rect x="641.42" y="360.30" width="67.70" height="37.70" fill="#ffff00"/>
<text transform="translate(675.77 390.20) scale(0.9190 1)" text-anchor="middle">1,2%</text>
<rect x="748.28" y="452.10" width="76.70" height="37.70" fill="#ffff00"/>
<text transform="translate(786.53 482.00) scale(0.9560 1)" text-anchor="middle">-0,5%</text>
<rect x="855.14" y="469.65" width="76.70" height="37.70" fill="#ffff00"/>
<text transform="translate(893.39 499.55) scale(0.9560 1)" text-anchor="middle">-0,8%</text>
<rect x="962.00" y="458.85" width="76.70" height="37.70" fill="#ffff00"/>
<text transform="translate(1000.25 488.75) scale(0.9560 1)" text-anchor="middle">-0,6%</text>
<rect x="1068.86" y="493.95" width="76.70" height="37.70" fill="#ffff00"/>
<text transform="translate(1107.11 523.85) scale(0.9560 1)" text-anchor="middle">-1,3%</text>
<rect x="1175.72" y="426.45" width="67.70" height="37.70" fill="#ffff00"/>
<text transform="translate(1210.07 456.35) scale(0.9190 1)" text-anchor="middle">0,0%</text>
<rect x="1282.58" y="399.45" width="67.70" height="37.70" fill="#ffff00"/>
<text transform="translate(1316.93 429.35) scale(0.9190 1)" text-anchor="middle">0,5%</text>
<rect x="1389.44" y="439.95" width="76.70" height="37.70" fill="#ffff00"/>
<text transform="translate(1427.69 469.85) scale(0.9560 1)" text-anchor="middle">-0,3%</text>
<rect x="1491.00" y="385.95" width="67.70" height="37.70" fill="#ffff00"/>
<text transform="translate(1525.35 415.85) scale(0.9190 1)" text-anchor="middle">0,8%</text>
</g>
<g style="font-family:'Liberation Sans',sans-serif">
<text x="439.00" y="91.40" font-size="32" fill="#595959" textLength="170.50" lengthAdjust="spacing">Așteptările</text>
<text x="620.50" y="91.40" font-size="32" font-weight="bold" fill="#595959" textLength="159.00" lengthAdjust="spacing">Agențilior</text>
<text x="784.40" y="91.40" font-size="32" font-weight="bold" fill="#595959" textLength="171.40" lengthAdjust="spacing">Economici</text>
<text x="963.60" y="91.40" font-size="32" fill="#595959" textLength="108.60" lengthAdjust="spacing">privind</text>
<text x="1081.00" y="91.40" font-size="32" font-weight="bold" fill="#595959" textLength="131.40" lengthAdjust="spacing">Salariați</text>
</g>
<rect x="522" y="814" width="31.6" height="14.8" fill="#a5300f"/>
<line x1="702.2" y1="820.4" x2="733" y2="820.4" stroke="#e07a15" stroke-width="3.3" stroke-linecap="round"/>
<g style="font-family:'Liberation Sans',sans-serif">
<text x="556.80" y="830.30" font-size="26.67" fill="#636363" textLength="103.20" lengthAdjust="spacing">Salariați</text>
<text x="736.40" y="830.30" font-size="26.67" fill="#636363" textLength="111.20" lengthAdjust="spacing">Tendința</text>
<text x="863.40" y="830.30" font-size="26.67" fill="#636363" textLength="84.00" lengthAdjust="spacing">pentru</text>
<text x="955.40" y="830.30" font-size="26.67" fill="#636363" textLength="88.20" lengthAdjust="spacing">ultimile</text>
<text x="1054.60" y="830.30" font-size="26.67" fill="#636363" textLength="27.40" lengthAdjust="spacing">12</text>
<text x="1088.20" y="830.30" font-size="26.67" fill="#636363" textLength="44.60" lengthAdjust="spacing">luni</text>
</g>
</svg>
</div>
</body>
</html>
